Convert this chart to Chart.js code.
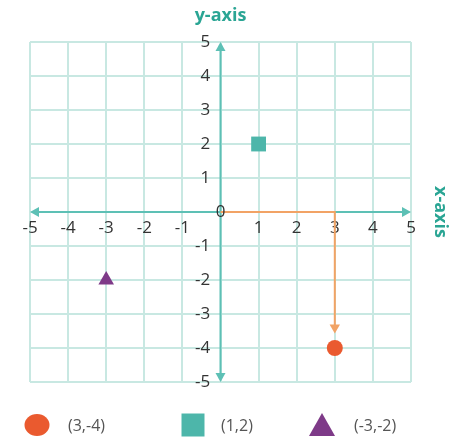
<!DOCTYPE html>
<html>
<head>
<meta charset="utf-8">
<script src="https://cdn.jsdelivr.net/npm/chart.js@4.4.0/dist/chart.umd.min.js"></script>
<style>
  html, body { margin: 0; padding: 0; background: #fff; }
</style>
</head>
<body>
<canvas id="plano" width="464" height="438"></canvas>
<script>
// ticks de los dos ejes
const ticksX = [-5, -4, -3, -2, -1, 0, 1, 2, 3, 4, 5];
const ticksY = [-5, -4, -3, -2, -1, 0, 1, 2, 3, 4, 5];

// puntos marcados
const etiquetas = ["(3,-4)", "(1,2)", "(-3,-2)"];
const puntosX = [3, 1, -3];
const puntosY = [-4, 2, -2];
const colores = ["#EA5A2F", "#4DB6AA", "#7E3A88"];
const formas = ["circle", "rect", "triangle"];

// recorrido naranja desde el origen hasta (3,-4)
const caminoX = [0, 3, 3];
const caminoY = [0, 0, -3.4];

const TEAL = "#5DC0B5";
const REJILLA = "#C8E8E2";

// ejes con flechas y rotulos extra
const ejesPlugin = {
  id: "ejes",
  beforeDatasetsDraw(chart) {
    const { ctx, scales: { x, y } } = chart;
    const x0 = x.getPixelForValue(0), y0 = y.getPixelForValue(0);
    const l = x.getPixelForValue(ticksX[0]), r = x.getPixelForValue(ticksX[ticksX.length - 1]);
    const t = y.getPixelForValue(ticksY[ticksY.length - 1]), b = y.getPixelForValue(ticksY[0]);
    ctx.save();
    ctx.strokeStyle = TEAL;
    ctx.fillStyle = TEAL;
    ctx.lineWidth = 2;
    ctx.beginPath();
    ctx.moveTo(l + 4, y0); ctx.lineTo(r - 4, y0);
    ctx.moveTo(x0, t + 4); ctx.lineTo(x0, b - 4);
    ctx.stroke();
    const flecha = (px, py, ang) => {
      ctx.save();
      ctx.translate(px, py);
      ctx.rotate(ang);
      ctx.beginPath();
      ctx.moveTo(0, 0);
      ctx.lineTo(-9, -5);
      ctx.lineTo(-9, 5);
      ctx.closePath();
      ctx.fill();
      ctx.restore();
    };
    flecha(l, y0, Math.PI);
    flecha(r, y0, 0);
    flecha(x0, t, -Math.PI / 2);
    flecha(x0, b, Math.PI / 2);
    ctx.restore();
  },
  afterDatasetsDraw(chart) {
    const { ctx, scales: { x, y } } = chart;
    ctx.save();
    ctx.fillStyle = "#333";
    ctx.font = "17px 'Open Sans'";
    ctx.textAlign = "center";
    ctx.textBaseline = "middle";
    ctx.fillText("0", x.getPixelForValue(0), y.getPixelForValue(0));
    // titulo del eje x, girado
    ctx.fillStyle = "#2AA594";
    ctx.font = "bold 18px 'Open Sans'";
    ctx.translate(440, y.getPixelForValue(0));
    ctx.rotate(Math.PI / 2);
    ctx.fillText("x-axis", 0, 0);
    ctx.restore();
  },
  afterDraw(chart) {
    const { ctx } = chart;
    const marcaX = [37, 193, 322];
    const textoX = [68, 221, 354];
    const cy = 425;
    ctx.save();
    etiquetas.forEach((txt, i) => {
      ctx.fillStyle = colores[i];
      ctx.beginPath();
      const cx = marcaX[i];
      if (formas[i] === "circle") {
        ctx.ellipse(cx, cy, 12.5, 11, 0, 0, Math.PI * 2);
      } else if (formas[i] === "rect") {
        ctx.rect(cx - 11.5, cy - 11.5, 23, 23);
      } else {
        ctx.moveTo(cx, cy - 12);
        ctx.lineTo(cx + 13, cy + 11);
        ctx.lineTo(cx - 13, cy + 11);
        ctx.closePath();
      }
      ctx.fill();
      ctx.fillStyle = "#555";
      ctx.font = "16px 'Open Sans'";
      ctx.textAlign = "left";
      ctx.textBaseline = "middle";
      ctx.fillText(txt, textoX[i], cy + 1);
    });
    ctx.restore();
  }
};

const datasets = etiquetas.map((lab, i) => ({
  label: lab,
  data: [{ x: puntosX[i], y: puntosY[i] }],
  backgroundColor: colores[i],
  borderWidth: 0,
  pointStyle: formas[i],
  pointRadius: formas[i] === "rect" ? 10.5 : (formas[i] === "triangle" ? 9 : 8),
  order: 0
}));

datasets.push({
  label: "camino",
  type: "line",
  data: caminoX.map((v, i) => ({ x: v, y: caminoY[i] })),
  borderColor: "#F2A365",
  backgroundColor: "#F2A365",
  borderWidth: 2,
  fill: false,
  tension: 0,
  pointStyle: "triangle",
  pointRotation: 180,
  pointRadius: [0, 0, 6],
  pointBorderWidth: 0,
  order: 1
});

const chart = new Chart(document.getElementById("plano"), {
  type: "scatter",
  data: { datasets },
  options: {
    responsive: false,
    animation: false,
    devicePixelRatio: 1,
    layout: { padding: { left: 30, right: 53, top: 0, bottom: 56 } },
    plugins: {
      legend: { display: false },
      tooltip: { enabled: false },
      title: {
        display: true,
        text: "y-axis",
        color: "#2AA594",
        font: { family: "'Open Sans'", size: 18, weight: "bold" },
        padding: { top: 5, bottom: 15.4 }
      }
    },
    scales: {
      x: {
        type: "linear",
        position: { y: 0 },
        min: -5, max: 5,
        afterBuildTicks: s => { s.ticks = ticksX.map(v => ({ value: v })); },
        grid: { color: REJILLA, lineWidth: 2, drawTicks: false },
        border: { display: false },
        ticks: {
          padding: 6,
          color: "#333",
          font: { family: "'Open Sans'", size: 17 },
          callback: v => (v === 0 ? "" : String(v))
        }
      },
      y: {
        type: "linear",
        position: { x: 0 },
        min: -5, max: 5,
        afterBuildTicks: s => { s.ticks = ticksY.map(v => ({ value: v })); },
        grid: { color: REJILLA, lineWidth: 2, drawTicks: false },
        border: { display: false },
        ticks: {
          color: "#333",
          font: { family: "'Open Sans'", size: 17 },
          // con el eje centrado Chart.js no aplica el padding: se separa con un espacio
          callback: v => (v === 0 ? "" : String(v) + "\u2002\u200A")
        }
      }
    }
  },
  plugins: [ejesPlugin]
});
</script>
</body>
</html>
